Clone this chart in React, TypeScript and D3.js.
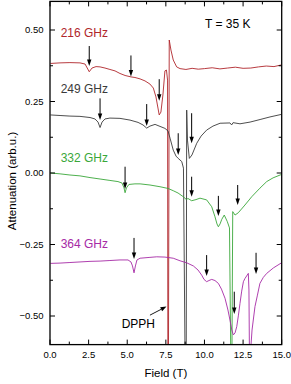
import * as d3 from "d3";

// field (T), attenuation (arb.u.)
const fieldsAt216 = [0.03, 0.65, 1.29, 1.94, 2.27, 2.54, 2.72, 2.98, 3.24, 3.56, 3.88, 4.21, 4.53, 4.86, 5.24, 5.5, 5.83, 6.15, 6.47, 6.69, 6.86, 6.99, 7.07, 7.18, 7.31, 7.44, 7.54, 7.61, 7.63, 7.67, 7.72, 7.83, 7.98, 8.2, 8.42, 8.8, 9.2, 9.6, 10.0, 10.5, 11.0, 11.5, 12.0, 12.5, 13.0, 13.5, 14.0, 14.5, 14.99];
const values216 = [0.383, 0.385, 0.386, 0.385, 0.381, 0.354, 0.367, 0.372, 0.371, 0.367, 0.362, 0.357, 0.348, 0.341, 0.336, 0.334, 0.329, 0.322, 0.311, 0.297, 0.266, 0.227, 0.203, 0.213, 0.273, 0.357, 0.36, 0.325, -0.62, -0.62, 0.465, 0.43, 0.395, 0.371, 0.365, 0.362, 0.366, 0.363, 0.365, 0.368, 0.364, 0.367, 0.37, 0.366, 0.367, 0.371, 0.374, 0.372, 0.378];

const fieldsAt249 = [0.03, 0.65, 1.29, 1.94, 2.59, 2.91, 3.11, 3.24, 3.37, 3.56, 3.88, 4.53, 5.18, 5.7, 6.02, 6.26, 6.47, 6.8, 7.12, 7.44, 7.64, 7.77, 7.98, 8.16, 8.3, 8.53, 8.64, 8.74, 8.82, 8.85, 8.9, 9.02, 9.19, 9.5, 9.78, 10.14, 10.55, 11.01, 11.65, 11.76, 11.85, 12.3, 12.95, 13.6, 14.24, 14.99];
const values249 = [0.203, 0.201, 0.199, 0.198, 0.194, 0.189, 0.178, 0.159, 0.178, 0.189, 0.192, 0.191, 0.185, 0.177, 0.168, 0.157, 0.164, 0.17, 0.163, 0.156, 0.147, 0.122, 0.08, 0.059, 0.051, 0.04, 0.017, -0.62, -0.62, 0.22, 0.115, 0.051, 0.063, 0.104, 0.129, 0.15, 0.164, 0.174, 0.175, 0.168, 0.176, 0.172, 0.178, 0.187, 0.196, 0.205];

const fieldsAt332 = [0.03, 0.65, 1.29, 1.94, 2.59, 3.24, 3.88, 4.4, 4.66, 4.79, 4.86, 4.95, 5.11, 5.5, 5.83, 6.47, 7.12, 7.64, 7.98, 8.29, 8.63, 8.83, 8.93, 9.17, 9.45, 9.71, 10.14, 10.47, 10.68, 10.81, 10.9, 11.01, 11.12, 11.28, 11.48, 11.62, 11.7, 11.78, 11.83, 11.98, 12.19, 12.62, 13.06, 13.59, 14.03, 14.44, 14.99];
const values332 = [0.0, -0.003, -0.007, -0.01, -0.016, -0.021, -0.026, -0.03, -0.035, -0.052, -0.069, -0.052, -0.04, -0.038, -0.038, -0.042, -0.048, -0.054, -0.062, -0.07, -0.083, -0.093, -0.089, -0.097, -0.093, -0.088, -0.094, -0.118, -0.153, -0.178, -0.188, -0.178, -0.162, -0.147, -0.17, -0.192, -0.62, -0.62, -0.135, -0.147, -0.139, -0.112, -0.083, -0.053, -0.03, -0.017, -0.005];

const fieldsAt364 = [0.03, 0.65, 1.29, 1.94, 2.59, 3.24, 3.88, 4.53, 5.05, 5.24, 5.34, 5.44, 5.53, 5.63, 5.83, 6.47, 6.91, 7.44, 7.98, 8.42, 8.85, 9.28, 9.58, 9.82, 9.97, 10.14, 10.29, 10.47, 10.68, 10.9, 11.1, 11.33, 11.52, 11.65, 11.77, 11.87, 11.98, 12.09, 12.2, 12.3, 12.41, 12.52, 12.62, 12.73, 12.84, 12.88, 12.91, 12.99, 13.08, 13.27, 13.43, 13.59, 13.81, 14.03, 14.46, 14.99];
const values364 = [-0.316, -0.315, -0.313, -0.311, -0.309, -0.308, -0.306, -0.304, -0.304, -0.311, -0.325, -0.349, -0.325, -0.304, -0.298, -0.295, -0.293, -0.294, -0.298, -0.307, -0.314, -0.325, -0.339, -0.357, -0.372, -0.38, -0.376, -0.372, -0.376, -0.386, -0.406, -0.438, -0.479, -0.514, -0.549, -0.566, -0.559, -0.537, -0.497, -0.456, -0.413, -0.38, -0.369, -0.36, -0.351, -0.409, -0.62, -0.62, -0.549, -0.467, -0.427, -0.386, -0.365, -0.351, -0.332, -0.314];

const seriesNames = ["216 GHz", "249 GHz", "332 GHz", "364 GHz"];
const seriesColors = ["#b0262b", "#3a3a3a", "#3aa73a", "#a62aa6"];
const labelFields = [0.69, 0.69, 0.69, 0.69];
const labelValues = [0.474, 0.281, 0.04, -0.262];

// arrows: field, value at tail, value at tip
const arrowFields = [2.54, 5.24, 7.07, 3.24, 6.26, 8.3, 9.17, 4.86, 9.17, 10.9, 12.15, 5.44, 10.14, 11.93, 13.34];
const arrowTops = [0.444, 0.411, 0.328, 0.261, 0.241, 0.139, 0.209, 0.022, -0.013, -0.08, -0.042, -0.227, -0.287, -0.415, -0.279];
const arrowTips = [0.374, 0.337, 0.253, 0.185, 0.164, 0.063, 0.104, -0.056, -0.083, -0.15, -0.112, -0.301, -0.36, -0.493, -0.353];

const xTicks = [0, 2.5, 5, 7.5, 10, 12.5, 15];
const xMinor = [1.25, 3.75, 6.25, 8.75, 11.25, 13.75];
const yTicks = [-0.5, -0.25, 0, 0.25, 0.5];
const yMinor = [-0.375, -0.125, 0.125, 0.375];

const W = 291;
const H = 384;
const left = 50;
const right = 281.7;
const top = 1.4;
const bottom = 344.6;
const font = "'Liberation Sans', Arial, Helvetica, sans-serif";

export default function App() {
  const x = d3.scaleLinear().domain([0, 15]).range([left, right]);
  const y = d3.scaleLinear().domain([-0.6, 0.6]).range([bottom, top]);

  const allFields = [fieldsAt216, fieldsAt249, fieldsAt332, fieldsAt364];
  const allValues = [values216, values249, values332, values364];

  const line = d3
    .line<[number, number]>()
    .x((d) => x(d[0]))
    .y((d) => y(d[1]));

  const fmtY = (v: number) => (v === 0 ? "0.00" : d3.format(".2f")(v));

  return (
    <svg
      width={W}
      height={H}
      style={{ position: "absolute", left: 0, top: 0, background: "#fff" }}
      fontFamily={font}
    >
      <defs>
        <clipPath id="plot">
          <rect x={left} y={top} width={right - left} height={bottom - top} />
        </clipPath>
      </defs>

      <g clipPath="url(#plot)">
        {allFields.map((fs, i) => (
          <path
            key={i}
            d={line(fs.map((f, j) => [f, allValues[i][j]] as [number, number])) || ""}
            fill="none"
            stroke={seriesColors[i]}
            strokeWidth={0.9}
            strokeLinejoin="round"
          />
        ))}
      </g>

      {/* arrows */}
      {arrowFields.map((f, i) => {
        const ax = x(f);
        const y0 = y(arrowTops[i]);
        const y1 = y(arrowTips[i]);
        return (
          <g key={i}>
            <line x1={ax} x2={ax} y1={y0} y2={y1 - 5} stroke="#000" strokeWidth={1} />
            <path d={`M${ax - 2.2},${y1 - 6.5}L${ax + 2.2},${y1 - 6.5}L${ax},${y1}Z`} fill="#000" />
          </g>
        );
      })}

      {/* DPPH label and arrow */}
      <text x={x(4.64)} y={y(-0.542)} fontSize={12} fill="#000">
        DPPH
      </text>
      {(() => {
        const x0 = x(6.47);
        const y0 = y(-0.497);
        const x1 = x(7.54);
        const y1 = y(-0.467);
        const ang = Math.atan2(y1 - y0, x1 - x0);
        const len = 6;
        const hw = 2.2;
        const bx = x1 - len * Math.cos(ang);
        const by = y1 - len * Math.sin(ang);
        const px = -Math.sin(ang) * hw;
        const py = Math.cos(ang) * hw;
        return (
          <g>
            <line x1={x0} y1={y0} x2={bx} y2={by} stroke="#000" strokeWidth={0.9} />
            <path d={`M${bx + px},${by + py}L${bx - px},${by - py}L${x1},${y1}Z`} fill="#000" />
          </g>
        );
      })()}

      {/* series labels */}
      {seriesNames.map((n, i) => (
        <text key={n} x={x(labelFields[i])} y={y(labelValues[i])} fontSize={12} fill={seriesColors[i]}>
          {n}
        </text>
      ))}

      <text x={205} y={28.3} fontSize={12} fill="#000">
        T = 35 K
      </text>

      {/* frame */}
      <rect x={left} y={top} width={right - left} height={bottom - top} fill="none" stroke="#000" strokeWidth={1.3} />

      {/* x ticks */}
      {xTicks.map((t) => (
        <g key={"x" + t}>
          <line x1={x(t)} x2={x(t)} y1={bottom} y2={bottom - 5} stroke="#000" strokeWidth={1} />
          <line x1={x(t)} x2={x(t)} y1={top} y2={top + 5} stroke="#000" strokeWidth={1} />
          <text x={x(t)} y={358.3} fontSize={9.5} textAnchor="middle" fill="#000">
            {d3.format(".1f")(t)}
          </text>
        </g>
      ))}
      {xMinor.map((t) => (
        <g key={"xm" + t}>
          <line x1={x(t)} x2={x(t)} y1={bottom} y2={bottom - 3} stroke="#000" strokeWidth={1} />
          <line x1={x(t)} x2={x(t)} y1={top} y2={top + 3} stroke="#000" strokeWidth={1} />
        </g>
      ))}

      {/* y ticks */}
      {yTicks.map((t) => (
        <g key={"y" + t}>
          <line x1={left} x2={left + 5} y1={y(t)} y2={y(t)} stroke="#000" strokeWidth={1} />
          <line x1={right} x2={right - 5} y1={y(t)} y2={y(t)} stroke="#000" strokeWidth={1} />
          <text x={43.5} y={y(t) + 3.3} fontSize={9.5} textAnchor="end" fill="#000">
            {fmtY(t)}
          </text>
        </g>
      ))}
      {yMinor.map((t) => (
        <g key={"ym" + t}>
          <line x1={left} x2={left + 3} y1={y(t)} y2={y(t)} stroke="#000" strokeWidth={1} />
          <line x1={right} x2={right - 3} y1={y(t)} y2={y(t)} stroke="#000" strokeWidth={1} />
        </g>
      ))}

      {/* axis titles */}
      <text x={(left + right) / 2} y={377} fontSize={11.5} textAnchor="middle" fill="#000">
        Field (T)
      </text>
      <text
        transform={`translate(16,181) rotate(-90)`}
        fontSize={11.5}
        textAnchor="middle"
        fill="#000"
      >
        Attenuation (arb.u.)
      </text>
    </svg>
  );
}
